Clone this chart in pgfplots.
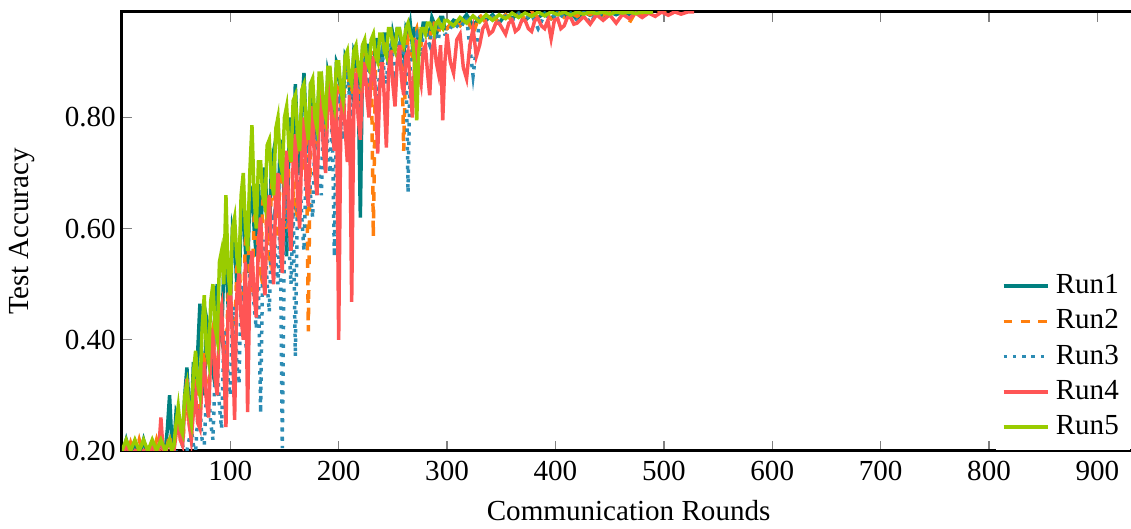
\documentclass[border=0pt]{standalone}
\usepackage{pgfplots}
\pgfplotsset{compat=1.18}
\usepackage{fontspec}
\setmainfont{Liberation Serif}
\definecolor{cRunA}{RGB}{0,128,128}
\definecolor{cRunB}{RGB}{255,127,14}
\definecolor{cRunC}{RGB}{44,140,180}
\definecolor{cRunD}{RGB}{255,85,85}
\definecolor{cRunE}{RGB}{153,204,0}
\begin{document}
\begin{tikzpicture}
\begin{axis}[
  scale only axis,
  width=348.4pt, height=150.9pt,
  xmin=0, xmax=935, ymin=0.2, ymax=0.99,
  xtick={100,200,...,900},
  ytick={0.2,0.4,0.6,0.8},
  ytick pos=left,
  yticklabel style={xshift=1.4pt, /pgf/number format/fixed, /pgf/number format/fixed zerofill, /pgf/number format/precision=2},
  ylabel style={at={(axis description cs:-0.0985,0.5)}, anchor=center},
  /pgf/number format/assume math mode=true,
  tick align=inside,
  major tick length=3.4pt,
  tick style={gray, line width=0.5pt},
  axis line style={line width=1pt},
  xlabel={Communication Rounds},
  ylabel={Test Accuracy},
  legend cell align=left,
  legend style={at={(0.99572,0)}, anchor=south east, fill=white, draw=none, inner xsep=2pt, inner ysep=2pt},
  legend image code/.code={\draw[mark repeat=2,mark phase=2] plot coordinates {(0cm,0cm) (0.27cm,0cm) (0.54cm,0cm)};},
  every axis plot/.append style={line width=1.2pt},
]
\addplot[cRunA] coordinates {
(0,0.19)(4,0.22)(8,0.19)(12,0.215)(16,0.19)(20,0.22)(24,0.19)(28,0.21)(32,0.19)(36,0.22)
(40,0.2)(42,0.24)(44,0.3)(46,0.22)(48,0.21)(50,0.27)(52,0.26)(54,0.23)(56,0.22)(58,0.3)
(60,0.35)(62,0.28)(64,0.25)(66,0.36)(68,0.3)(70,0.38)(72,0.465)(74,0.33)(76,0.3)(78,0.44)
(80,0.42)(82,0.36)(84,0.34)(86,0.47)(88,0.5)(90,0.42)(92,0.4)(94,0.53)(96,0.55)(98,0.46)
(100,0.45)(102,0.6)(104,0.58)(106,0.5)(108,0.48)(110,0.62)(112,0.64)(114,0.56)(116,0.52)(118,0.66)
(120,0.67)(122,0.6)(124,0.55)(126,0.68)(128,0.6)(130,0.66)(132,0.71)(134,0.63)(136,0.58)(138,0.72)
(140,0.74)(142,0.66)(144,0.62)(146,0.76)(148,0.72)(150,0.65)(152,0.55)(154,0.74)(156,0.8)(158,0.72)
(160,0.86)(162,0.76)(164,0.7)(166,0.82)(168,0.88)(170,0.78)(172,0.74)(174,0.85)(176,0.84)(178,0.77)
(180,0.79)(182,0.86)(184,0.87)(186,0.8)(188,0.76)(190,0.88)(192,0.86)(194,0.81)(196,0.8)(198,0.9)
(200,0.89)(202,0.84)(204,0.82)(206,0.91)(208,0.9)(210,0.85)(212,0.84)(214,0.92)(216,0.91)(218,0.86)
(220,0.62)(222,0.9)(224,0.88)(226,0.93)(228,0.93)(230,0.89)(232,0.86)(234,0.94)(236,0.94)(238,0.9)
(240,0.9)(242,0.95)(244,0.95)(246,0.91)(248,0.89)(250,0.95)(252,0.93)(254,0.96)(256,0.96)(258,0.92)
(260,0.91)(262,0.96)(264,0.95)(266,0.97)(268,0.93)(270,0.96)(272,0.96)(274,0.93)(276,0.94)(278,0.97)
(280,0.97)(282,0.95)(284,0.95)(286,0.98)(288,0.97)(290,0.95)(292,0.96)(294,0.98)(296,0.98)(298,0.96)
(300,0.96)(306,0.975)(312,0.97)(318,0.985)(324,0.965)
(330,0.98)(336,0.975)(342,0.985)(348,0.97)(354,0.985)(360,0.978)(366,0.988)(372,0.975)(378,0.985)(384,0.98)
(390,0.988)(396,0.978)(402,0.99)(408,0.982)(414,0.988)(420,0.976)(426,0.99)(432,0.984)(438,0.99)(444,0.983)
(450,0.99)(456,0.985)(462,0.99)(468,0.986)(474,0.99)(480,0.988)
};
\addlegendentry{Run1}
\addplot[cRunB, dashed] coordinates {
(0,0.2)(4,0.19)(8,0.215)(12,0.19)(16,0.22)(20,0.19)(24,0.21)(28,0.19)(32,0.22)(36,0.19)
(40,0.2)(42,0.21)(44,0.23)(46,0.19)(48,0.2)(50,0.24)(52,0.27)(54,0.22)(56,0.21)(58,0.26)
(60,0.3)(62,0.25)(64,0.22)(66,0.3)(68,0.33)(70,0.27)(72,0.26)(74,0.35)(76,0.38)(78,0.3)
(80,0.28)(82,0.4)(84,0.42)(86,0.34)(88,0.33)(90,0.44)(92,0.46)(94,0.38)(96,0.36)(98,0.48)
(100,0.5)(102,0.42)(104,0.4)(106,0.53)(108,0.55)(110,0.46)(112,0.45)(114,0.58)(116,0.6)(118,0.5)
(120,0.48)(122,0.62)(124,0.63)(126,0.54)(128,0.52)(130,0.65)(132,0.66)(134,0.57)(136,0.55)(138,0.68)
(140,0.7)(142,0.6)(144,0.58)(146,0.71)(148,0.72)(150,0.63)(152,0.6)(154,0.74)(156,0.76)(158,0.66)
(160,0.64)(162,0.78)(164,0.79)(166,0.72)(168,0.7)(170,0.8)(172,0.415)(174,0.78)(176,0.82)(178,0.74)
(180,0.72)(182,0.84)(184,0.86)(186,0.77)(188,0.75)(190,0.86)(192,0.87)(194,0.8)(196,0.78)(198,0.88)
(200,0.88)(202,0.82)(204,0.8)(206,0.89)(208,0.9)(210,0.85)(212,0.84)(214,0.91)(216,0.91)(218,0.86)
(220,0.82)(222,0.91)(224,0.92)(226,0.87)(228,0.86)(230,0.92)(232,0.585)(234,0.9)(236,0.92)(238,0.89)
(240,0.88)(242,0.93)(244,0.94)(246,0.9)(248,0.89)(250,0.94)(252,0.93)(254,0.91)(256,0.9)(258,0.94)
(260,0.74)(262,0.92)(264,0.94)(266,0.92)(268,0.91)(270,0.95)(272,0.96)(274,0.93)(276,0.93)(278,0.96)
(280,0.96)(282,0.94)(284,0.94)(286,0.97)(288,0.97)(290,0.95)(292,0.95)(294,0.97)(296,0.97)(298,0.96)
(300,0.96)(306,0.975)(312,0.965)(318,0.98)(324,0.95)
(330,0.985)(336,0.97)(342,0.98)(348,0.972)(354,0.985)(360,0.975)(366,0.985)(372,0.978)(378,0.99)(384,0.98)
(390,0.987)(396,0.978)(402,0.99)(408,0.98)(414,0.988)(420,0.982)(426,0.99)(432,0.985)(438,0.99)(444,0.984)
(450,0.99)(456,0.986)(462,0.99)(468,0.97)(474,0.99)(480,0.986)(486,0.99)(492,0.988)(498,0.99)(504,0.987)(510,0.99)
};
\addlegendentry{Run2}
\addplot[cRunC, dotted] coordinates {
(0,0.19)(8,0.2)(16,0.19)(24,0.2)(32,0.19)(40,0.2)(48,0.19)
(56,0.21)(58,0.19)(60,0.2)(62,0.22)(64,0.24)(66,0.21)(68,0.2)(70,0.26)(72,0.28)(74,0.22)
(76,0.21)(78,0.3)(80,0.31)(82,0.25)(84,0.22)(86,0.34)(88,0.36)(90,0.28)(92,0.24)(94,0.4)
(96,0.42)(98,0.33)(100,0.3)(102,0.44)(104,0.46)(106,0.36)(108,0.32)(110,0.48)(112,0.5)(114,0.4)
(116,0.36)(118,0.52)(120,0.54)(122,0.46)(124,0.42)(126,0.5)(128,0.268)(130,0.55)(132,0.58)(134,0.5)
(136,0.45)(138,0.6)(140,0.62)(142,0.54)(144,0.5)(146,0.62)(148,0.205)(150,0.6)(152,0.66)(154,0.58)
(156,0.5)(158,0.64)(160,0.37)(162,0.66)(164,0.7)(166,0.62)(168,0.56)(170,0.72)(172,0.74)(174,0.66)
(176,0.62)(178,0.76)(180,0.78)(182,0.7)(184,0.66)(186,0.79)(188,0.8)(190,0.74)(192,0.7)(194,0.8)
(196,0.55)(198,0.82)(200,0.83)(202,0.78)(204,0.76)(206,0.86)(208,0.9)(210,0.83)(212,0.8)(214,0.87)
(216,0.88)(218,0.84)(220,0.82)(222,0.89)(224,0.91)(226,0.87)(228,0.85)(230,0.9)(232,0.9)(234,0.86)
(236,0.82)(238,0.9)(240,0.92)(242,0.88)(244,0.86)(246,0.92)(248,0.93)(250,0.9)(252,0.88)(254,0.93)
(256,0.94)(258,0.91)(260,0.9)(262,0.93)(264,0.665)(266,0.9)(268,0.92)(270,0.94)(272,0.95)(274,0.93)
(276,0.91)(278,0.95)(280,0.96)(282,0.94)(284,0.93)(286,0.96)(288,0.96)(290,0.94)(292,0.94)(294,0.97)
(296,0.97)(298,0.95)(300,0.95)(306,0.97)(312,0.96)(318,0.98)(324,0.875)(330,0.975)(336,0.965)(342,0.98)
(348,0.97)(354,0.982)(360,0.975)(366,0.985)(372,0.978)(378,0.985)(384,0.96)(390,0.985)(396,0.978)(402,0.988)
(408,0.98)(414,0.985)(420,0.975)(426,0.988)(432,0.97)(438,0.988)(444,0.982)(450,0.988)
};
\addlegendentry{Run3}
\addplot[cRunD] coordinates {
(0,0.19)(4,0.21)(8,0.19)(12,0.2)(16,0.19)(20,0.2)(24,0.19)(28,0.21)
(32,0.19)(34,0.2)(36,0.26)(38,0.2)(40,0.19)(42,0.21)(44,0.22)(46,0.2)(48,0.2)(50,0.23)
(52,0.26)(54,0.22)(56,0.21)(58,0.28)(60,0.33)(62,0.25)(64,0.22)(66,0.27)(68,0.3)(70,0.25)
(72,0.24)(74,0.33)(76,0.36)(78,0.29)(80,0.26)(82,0.38)(84,0.42)(86,0.33)(88,0.3)(90,0.44)
(92,0.46)(94,0.36)(96,0.243)(98,0.45)(100,0.5)(102,0.4)(104,0.256)(106,0.48)(108,0.52)(110,0.44)
(112,0.4)(114,0.54)(116,0.27)(118,0.5)(120,0.56)(122,0.48)(124,0.44)(126,0.58)(128,0.62)(130,0.52)
(132,0.48)(134,0.63)(136,0.66)(138,0.56)(140,0.5)(142,0.67)(144,0.7)(146,0.58)(148,0.52)(150,0.7)
(152,0.74)(154,0.62)(156,0.56)(158,0.72)(160,0.77)(162,0.66)(164,0.6)(166,0.75)(168,0.8)(170,0.68)
(172,0.64)(174,0.78)(176,0.82)(178,0.7)(180,0.66)(182,0.8)(184,0.84)(186,0.74)(188,0.7)(190,0.83)
(192,0.86)(194,0.78)(196,0.74)(198,0.85)(200,0.4)(202,0.8)(204,0.86)(206,0.78)(208,0.72)(210,0.84)
(212,0.468)(214,0.82)(216,0.88)(218,0.8)(220,0.76)(222,0.87)(224,0.9)(226,0.84)(228,0.8)(230,0.88)
(232,0.91)(234,0.84)(236,0.735)(238,0.86)(240,0.9)(242,0.84)(244,0.746)(246,0.88)(248,0.92)(250,0.86)
(252,0.82)(254,0.9)(256,0.93)(258,0.87)(260,0.84)(262,0.91)(264,0.92)(266,0.86)(268,0.8)(270,0.9)
(272,0.94)(274,0.88)(276,0.86)(278,0.92)(280,0.93)(282,0.88)(284,0.84)(286,0.92)(288,0.94)(290,0.9)
(292,0.88)(294,0.93)(296,0.795)(298,0.9)(300,0.95)(303,0.9)(306,0.88)(309,0.94)(312,0.95)(315,0.89)
(318,0.87)(321,0.93)(324,0.96)(327,0.91)(330,0.93)(333,0.96)(336,0.97)(339,0.95)(342,0.955)(345,0.97)
(348,0.97)(351,0.96)(354,0.95)(357,0.97)(360,0.975)(363,0.955)(366,0.96)(369,0.975)(372,0.975)(375,0.96)
(378,0.955)(381,0.975)(384,0.978)(387,0.965)(390,0.96)(393,0.975)(396,0.942)(399,0.975)(402,0.978)(405,0.96)
(408,0.965)(411,0.98)(414,0.98)(417,0.968)(420,0.97)(426,0.982)(432,0.968)(438,0.985)(444,0.975)
(450,0.985)(456,0.97)(462,0.986)(468,0.978)(474,0.988)(480,0.98)(486,0.988)(492,0.982)(498,0.99)(504,0.984)
(510,0.99)(516,0.986)(522,0.99)(528,0.99)
};
\addlegendentry{Run4}
\addplot[cRunE] coordinates {
(0,0.2)(4,0.22)(8,0.2)(12,0.22)(16,0.2)(20,0.22)(24,0.2)(28,0.22)(32,0.2)(36,0.22)
(40,0.2)(42,0.21)(44,0.22)(46,0.2)(48,0.21)(50,0.25)(52,0.28)(54,0.24)(56,0.23)(58,0.3)
(60,0.32)(62,0.27)(64,0.25)(66,0.34)(68,0.38)(70,0.32)(72,0.3)(74,0.42)(76,0.48)(78,0.38)
(80,0.36)(82,0.47)(84,0.5)(86,0.42)(88,0.4)(90,0.54)(92,0.56)(94,0.5)(96,0.66)(98,0.52)
(100,0.48)(102,0.6)(104,0.62)(106,0.55)(108,0.52)(110,0.66)(112,0.7)(114,0.6)(116,0.56)(118,0.7)
(120,0.786)(122,0.66)(124,0.6)(126,0.72)(128,0.72)(130,0.66)(132,0.64)(134,0.75)(136,0.76)(138,0.69)
(140,0.66)(142,0.78)(144,0.8)(146,0.72)(148,0.7)(150,0.8)(152,0.82)(154,0.75)(156,0.72)(158,0.83)
(160,0.84)(162,0.77)(164,0.74)(166,0.85)(168,0.86)(170,0.79)(172,0.76)(174,0.86)(176,0.87)(178,0.8)
(180,0.78)(182,0.88)(184,0.88)(186,0.82)(188,0.8)(190,0.89)(192,0.89)(194,0.84)(196,0.82)(198,0.9)
(200,0.9)(202,0.85)(204,0.83)(206,0.91)(208,0.92)(210,0.87)(212,0.86)(214,0.92)(216,0.93)(218,0.89)
(220,0.87)(222,0.93)(224,0.94)(226,0.9)(228,0.89)(230,0.94)(232,0.95)(234,0.91)(236,0.9)(238,0.95)
(240,0.95)(242,0.92)(244,0.91)(246,0.96)(248,0.96)(250,0.93)(252,0.92)(254,0.96)(256,0.96)(258,0.94)
(260,0.93)(262,0.96)(264,0.97)(266,0.95)(268,0.94)(270,0.9)(272,0.795)(274,0.92)(276,0.96)(278,0.96)
(280,0.95)(282,0.97)(284,0.97)(286,0.96)(288,0.95)(290,0.97)(292,0.975)(294,0.965)(296,0.96)(298,0.975)
(300,0.975)(306,0.965)(312,0.98)(318,0.97)(324,0.983)
(330,0.972)(336,0.985)(342,0.975)(348,0.985)(354,0.978)(360,0.988)(366,0.98)(372,0.988)(378,0.982)(384,0.99)
(390,0.983)(396,0.99)(402,0.985)(408,0.99)(414,0.984)(420,0.99)(426,0.986)(432,0.99)(438,0.987)(444,0.99)
(450,0.986)(456,0.99)(462,0.988)(468,0.99)(474,0.987)(480,0.99)(486,0.989)(490,0.99)
};
\addlegendentry{Run5}
\end{axis}
\pgfresetboundingbox
\path[use as bounding box] ([xshift=-41.9pt,yshift=-26.8pt]current axis.south west) rectangle ([xshift=346.9pt,yshift=4.1pt]current axis.north west);
\end{tikzpicture}
\end{document}
